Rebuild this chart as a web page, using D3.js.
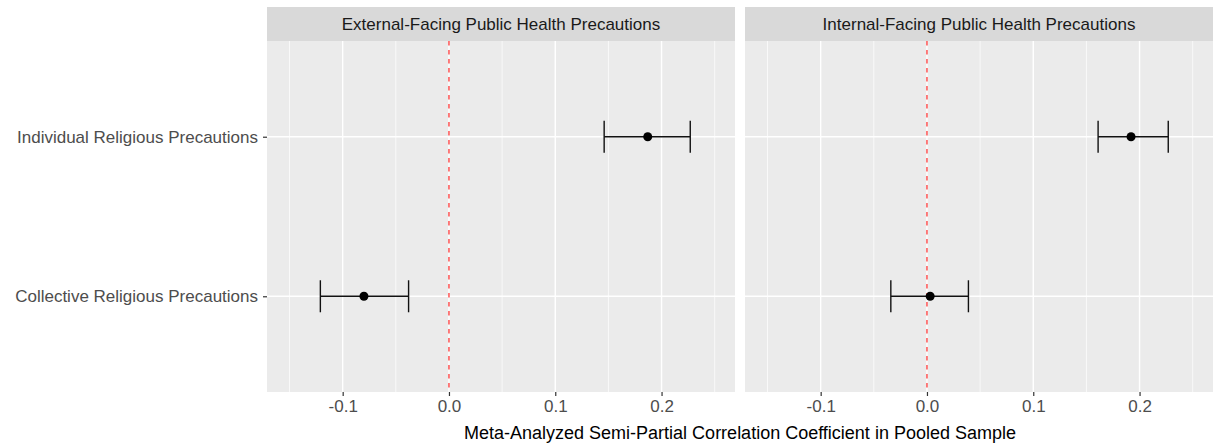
<!DOCTYPE html>
<html>
<head>
<meta charset="utf-8">
<script src="https://cdn.jsdelivr.net/npm/d3@7"></script>
<style>
  body { margin: 0; background: #fff; }
  text { font-family: "Liberation Sans", Arial, sans-serif; }
</style>
</head>
<body>
<div id="chart"></div>
<script>
// facet panels and rows
const panels = ['External-Facing Public Health Precautions', 'Internal-Facing Public Health Precautions']
const categories = ['Collective Religious Precautions', 'Individual Religious Precautions']
const xTicks = [-0.1, 0.0, 0.1, 0.2]
const xMinor = [-0.15, -0.05, 0.05, 0.15, 0.25]

// estimates with 95% CI, one entry per panel/category
const panelOf = [0, 0, 1, 1]
const categoryOf = [0, 1, 0, 1]
const estimate = [-0.080, 0.187, 0.003, 0.192]
const lower = [-0.121, 0.146, -0.034, 0.161]
const upper = [-0.038, 0.227, 0.039, 0.227]

const width = 1214
const height = 446
const margin = { top: 7, left: 267, bottom: 54, right: 1 }
const stripH = 34
const gap = 10
const panelW = (width - margin.left - margin.right - gap) / panels.length
const plotTop = margin.top + stripH
const plotBottom = height - margin.bottom
const fmt = d => d3.format('.1f')(d).replace('\u2212', '-')

const svg = d3.select('#chart').append('svg')
  .attr('width', width)
  .attr('height', height)

const x = d3.scaleLinear().domain([-0.1712, 0.2691]).range([0, panelW])
const y = d3.scaleLinear().domain([0.4, 2.6]).range([plotBottom, plotTop])
const yPos = i => y(i + 1)

panels.forEach((name, p) => {
  const g = svg.append('g').attr('transform', `translate(${margin.left + p * (panelW + gap)},0)`)

  /* strip */
  g.append('rect').attr('x', 0).attr('y', margin.top).attr('width', panelW).attr('height', stripH).attr('fill', '#d9d9d9')
  g.append('text').attr('x', panelW / 2).attr('y', margin.top + stripH / 2).attr('dy', '0.35em')
    .attr('text-anchor', 'middle').attr('font-size', 17).attr('fill', '#1a1a1a').text(name)

  /* panel background and grid */
  g.append('rect').attr('x', 0).attr('y', plotTop).attr('width', panelW).attr('height', plotBottom - plotTop).attr('fill', '#ebebeb')
  g.selectAll('.minor').data(xMinor).enter().append('line')
    .attr('x1', d => x(d)).attr('x2', d => x(d)).attr('y1', plotTop).attr('y2', plotBottom)
    .attr('stroke', '#fff').attr('stroke-width', 0.7)
  g.selectAll('.major').data(xTicks).enter().append('line')
    .attr('x1', d => x(d)).attr('x2', d => x(d)).attr('y1', plotTop).attr('y2', plotBottom)
    .attr('stroke', '#fff').attr('stroke-width', 1.4)
  g.selectAll('.hgrid').data(categories).enter().append('line')
    .attr('x1', 0).attr('x2', panelW).attr('y1', (d, i) => yPos(i)).attr('y2', (d, i) => yPos(i))
    .attr('stroke', '#fff').attr('stroke-width', 1.4)

  /* reference line */
  g.append('line').attr('x1', x(0)).attr('x2', x(0)).attr('y1', plotTop).attr('y2', plotBottom)
    .attr('stroke', '#ff2a2a').attr('stroke-width', 1.2).attr('stroke-dasharray', '4.5,4.5')

  /* error bars and points */
  const idx = d3.range(estimate.length).filter(i => panelOf[i] === p)
  const bars = g.selectAll('.bar').data(idx).enter().append('g')
  bars.append('line')
    .attr('x1', i => x(lower[i])).attr('x2', i => x(upper[i]))
    .attr('y1', i => yPos(categoryOf[i])).attr('y2', i => yPos(categoryOf[i]))
    .attr('stroke', '#111').attr('stroke-width', 1.4)
  ;[lower, upper].forEach(arr => {
    bars.append('line')
      .attr('x1', i => x(arr[i])).attr('x2', i => x(arr[i]))
      .attr('y1', i => yPos(categoryOf[i]) - 16).attr('y2', i => yPos(categoryOf[i]) + 16)
      .attr('stroke', '#111').attr('stroke-width', 1.4)
  })
  bars.append('circle')
    .attr('cx', i => x(estimate[i])).attr('cy', i => yPos(categoryOf[i])).attr('r', 4.5).attr('fill', '#000')

  /* x axis */
  const ax = g.append('g').attr('transform', `translate(0,${plotBottom})`)
    .call(d3.axisBottom(x).tickValues(xTicks).tickFormat(fmt).tickSize(4).tickPadding(4))
  ax.select('.domain').remove()
  ax.selectAll('line').attr('stroke', '#333').attr('stroke-width', 1.2)
  ax.selectAll('text').attr('font-size', 17).attr('fill', '#4d4d4d').attr('font-family', '"Liberation Sans", Arial, sans-serif')
})

/* y axis on the left panel */
const ay = svg.append('g').attr('transform', `translate(${margin.left},0)`)
  .call(d3.axisLeft(y).tickValues([1, 2]).tickFormat(d => categories[d - 1]).tickSize(4).tickPadding(5))
ay.select('.domain').remove()
ay.selectAll('line').attr('stroke', '#333').attr('stroke-width', 1.2)
ay.selectAll('text').attr('font-size', 17).attr('fill', '#4d4d4d').attr('font-family', '"Liberation Sans", Arial, sans-serif')

/* x axis title */
svg.append('text')
  .attr('x', margin.left + (width - margin.left - margin.right) / 2)
  .attr('y', 433).attr('dy', '0.35em')
  .attr('text-anchor', 'middle').attr('font-size', 18).attr('fill', '#000')
  .text('Meta-Analyzed Semi-Partial Correlation Coefficient in Pooled Sample')
</script>
</body>
</html>
